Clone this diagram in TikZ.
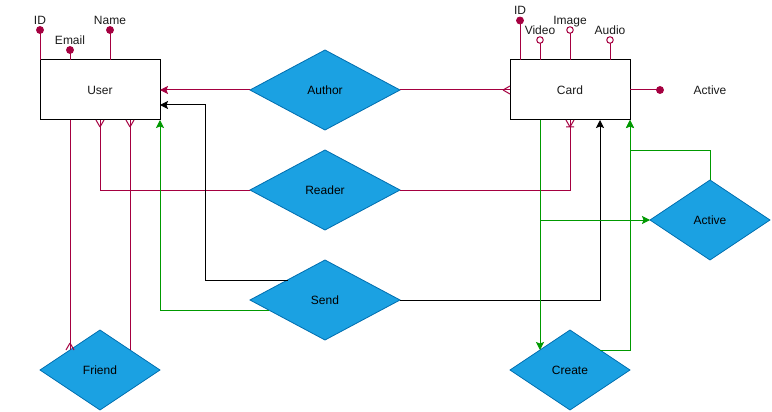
\documentclass[tikz,border=0pt]{standalone}
\usepackage{fontspec}
\setmainfont{Liberation Sans}
\usetikzlibrary{arrows.meta,shapes.geometric,calc}
\definecolor{mag}{HTML}{A50040}
\definecolor{grn}{HTML}{009900}
\definecolor{dfill}{HTML}{1BA1E2}
\definecolor{dline}{HTML}{006EAF}
\definecolor{txt}{HTML}{1A1A1A}
\pgfdeclarearrow{
  name = Crow,
  parameters = {\the\pgfarrowlength,\the\pgfarrowwidth},
  setup code = {
    \pgfarrowssettipend{0pt}
    \pgfarrowssetlineend{0pt}
    \pgfarrowssetbackend{-\pgfarrowlength}
    \pgfarrowssavethe\pgfarrowlength
    \pgfarrowssavethe\pgfarrowwidth
  },
  drawing code = {
    \pgfsetdash{}{0pt}
    \pgfpathmoveto{\pgfqpoint{-\pgfarrowlength}{0pt}}
    \pgfpathlineto{\pgfqpoint{0pt}{.5\pgfarrowwidth}}
    \pgfpathmoveto{\pgfqpoint{-\pgfarrowlength}{0pt}}
    \pgfpathlineto{\pgfqpoint{0pt}{-.5\pgfarrowwidth}}
    \pgfusepathqstroke
  },
  defaults = {length = 7pt, width = 8pt}
}
\pgfdeclarearrow{
  name = CrowBar,
  parameters = {\the\pgfarrowlength,\the\pgfarrowwidth},
  setup code = {
    \pgfarrowssettipend{0pt}
    \pgfarrowssetlineend{0pt}
    \pgfarrowssetbackend{-\pgfarrowlength}
    \pgfarrowssavethe\pgfarrowlength
    \pgfarrowssavethe\pgfarrowwidth
  },
  drawing code = {
    \pgfsetdash{}{0pt}
    \pgfpathmoveto{\pgfqpoint{-\pgfarrowlength}{0pt}}
    \pgfpathlineto{\pgfqpoint{0pt}{.5\pgfarrowwidth}}
    \pgfpathmoveto{\pgfqpoint{-\pgfarrowlength}{0pt}}
    \pgfpathlineto{\pgfqpoint{0pt}{-.5\pgfarrowwidth}}
    \pgfpathmoveto{\pgfqpoint{-\pgfarrowlength}{.5\pgfarrowwidth}}
    \pgfpathlineto{\pgfqpoint{-\pgfarrowlength}{-.5\pgfarrowwidth}}
    \pgfusepathqstroke
  },
  defaults = {length = 7pt, width = 8pt}
}
\begin{document}
\begin{tikzpicture}[x=1pt,y=-1pt,
  every node/.style={font=\fontsize{12}{14}\selectfont, text=txt},
  entity/.style={draw=black, line width=1pt, rectangle, minimum width=120pt, minimum height=60pt, inner sep=0pt, outer sep=0pt, fill=white, text height=8.6pt, text depth=0pt},
  rel/.style={draw=dline, fill=dfill, diamond, line width=0.8pt, inner sep=0pt, outer sep=0pt, text height=8.6pt, text depth=0pt, text=black},
  attrlbl/.style={inner sep=0pt, text height=8.6pt, text depth=0pt},
  fdot/.style={circle, fill=mag, draw=mag, line width=0.8pt, minimum size=7pt, inner sep=0pt, outer sep=0pt},
  odot/.style={circle, fill=white, draw=mag, line width=1pt, minimum size=6.5pt, inner sep=0pt, outer sep=0pt},
  link/.style={line width=1pt},
  mline/.style={link, draw=mag},
  gline/.style={link, draw=grn},
  bline/.style={link, draw=black},
  tip/.style={-{Stealth[length=8pt, width=8pt, inset=1.5pt]}},
  crow/.style={-{Crow[length=7pt, width=8pt]}},
  crowbar/.style={-{CrowBar[length=7pt, width=8pt]}}
]
\useasboundingbox (0,0) rectangle (772,412);

% entities
\node[entity] (user) at (100,90) {User};
\node[entity] (card) at (570,90) {Card};

% relationships
\node[rel, minimum width=150pt, minimum height=80pt] (author) at (325,90) {Author};
\node[rel, minimum width=150pt, minimum height=80pt] (reader) at (325,190) {Reader};
\node[rel, minimum width=150pt, minimum height=80pt] (send) at (325,300) {Send};
\node[rel, minimum width=120pt, minimum height=80pt] (friend) at (100,370) {Friend};
\node[rel, minimum width=120pt, minimum height=80pt] (create) at (570,370) {Create};
\node[rel, minimum width=120pt, minimum height=80pt] (active) at (710,220) {Active};

% user attributes
\node[fdot] (uid) at (40,30) {};
\node[fdot] (uemail) at (70,50) {};
\node[fdot] (uname) at (110,30) {};
\node[attrlbl] (uidl) at (40,20.5) {ID};
\node[attrlbl] (ueml) at (70,40.5) {Email};
\node[attrlbl] (unml) at (110,20.5) {Name};
\draw[mline] (user.north west) -- (uid);
\draw[mline] ($(user.north west)+(30,0)$) -- (uemail);
\draw[mline] ($(user.north west)+(70,0)$) -- (uname);

% card attributes
\node[fdot] (cid) at (520,20.5) {};
\node[odot] (cvideo) at (540,40) {};
\node[odot] (cimage) at (570,30) {};
\node[odot] (caudio) at (610,40) {};
\node[fdot] (cactive) at (660,90) {};
\node[attrlbl] (cidl) at (520,10) {ID};
\node[attrlbl] (cvidl) at (540,30.5) {Video};
\node[attrlbl] (cimgl) at (570,20.5) {Image};
\node[attrlbl] (caudl) at (610,30.5) {Audio};
\node[attrlbl] (cactl) at (710,90) {Active};
\draw[mline] ($(card.north west)+(10,0)$) -- (cid);
\draw[mline] ($(card.north west)+(30,0)$) -- (cvideo);
\draw[mline] (card.north) -- (cimage);
\draw[mline] ($(card.north west)+(100,0)$) -- (caudio);
\draw[mline] (card.east) -- (cactive);

% Author
\draw[mline, tip] (author.west) -- (user.east);
\draw[mline, crow] (author.east) -- (card.west);

% Reader
\draw[mline, crow] (reader.west) -| (user.south);
\draw[mline, crowbar] (reader.east) -| (card.south);

% Friend
\draw[mline, crow] ($(user.south west)!0.25!(user.south east)$) -- ($(friend.west)!0.5!(friend.north)$);
\draw[mline, crow] ($(friend.north)!0.5!(friend.east)$) -- ($(user.south west)!0.75!(user.south east)$);

% Send
\coordinate (ub) at ($(user.north east)!0.75!(user.south east)$);
\draw[bline, tip] ($(send.west)!0.5!(send.north)$) -| ($(ub)+(45,0)$) -- (ub);
\draw[gline, tip] ($(send.west)!0.25!(send.south)$) -| (user.south east);
\draw[bline, tip] (send.east) -| ($(card.south west)!0.75!(card.south east)$);

% Create / Active
\coordinate (cb) at ($(card.south west)!0.25!(card.south east)$);
\draw[gline, tip] (cb) -- ($(create.west)!0.5!(create.north)$);
\draw[gline, tip] (cb) |- (active.west);
\draw[gline, tip] ($(create.north)!0.5!(create.east)$) -| (card.south east);
\draw[gline, tip] (active.north) |- ($(card.south east)+(0,30)$) -- (card.south east);
\end{tikzpicture}
\end{document}
